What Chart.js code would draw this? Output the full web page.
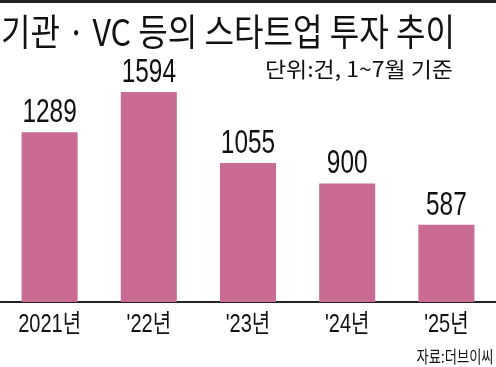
<!DOCTYPE html>
<html>
<head>
<meta charset="utf-8">
<script src="https://cdn.jsdelivr.net/npm/chart.js@4/dist/chart.umd.min.js"></script>
<style>
  html, body { margin: 0; padding: 0; background: #fff; }
  #wrap { position: relative; width: 496px; height: 367px; overflow: hidden; }
  #topline { position: absolute; left: 0; top: 0; width: 496px; height: 3px; background: #222; }
  .txt { position: absolute; white-space: nowrap; color: #111; font-family: "Noto Sans CJK KR", "Liberation Sans", sans-serif; }
  #title { left: 1px; top: 3px; font-size: 37px; transform-origin: left top; }
  #unit { top: 53px; font-size: 21px; transform-origin: right top; }
  #src { top: 343px; font-size: 17px; transform-origin: right top; }
  canvas { position: absolute; left: 0; top: 0; }
</style>
</head>
<body>
<div id="wrap">
  <canvas id="chart" width="496" height="367"></canvas>
  <div id="topline"></div>
  <div class="txt" id="title">기관 · VC 등의 스타트업 투자 추이</div>
  <div class="txt" id="unit">단위:건, 1~7월 기준</div>
  <div class="txt" id="src">자료:더브이씨</div>
</div>
<script>
var years = ['2021년', "'22년", "'23년", "'24년", "'25년"];
var counts = [1289, 1594, 1055, 900, 587];
var barColor = '#c96b93';

// squeeze the headline texts to the width they have in the print graphic
function fitWidth(id, target, right) {
  var el = document.getElementById(id);
  var w = el.getBoundingClientRect().width;
  var s = target / w;
  el.style.transform = 'scaleX(' + s + ')';
  if (right !== undefined) {
    el.style.left = (right - w) + 'px';
  }
}
fitWidth('title', 454);
fitWidth('unit', 188, 453);
fitWidth('src', 77, 494);

// condensed text: draw with a horizontal squeeze around x
function narrowText(c, text, x, y, sx) {
  c.save();
  c.translate(x, y);
  c.scale(sx, 1);
  c.fillText(text, 0, 0);
  c.restore();
}

var narrowLabels = {
  id: 'narrowLabels',
  afterDatasetsDraw: function(chart) {
    var c = chart.ctx;
    var meta = chart.getDatasetMeta(0);
    var xs = chart.scales.x;
    c.save();
    c.fillStyle = '#111';
    c.textAlign = 'center';
    c.textBaseline = 'alphabetic';
    // values over the bars
    c.font = '33px "Liberation Sans", sans-serif';
    meta.data.forEach(function(bar, i) {
      narrowText(c, String(counts[i]), bar.x, bar.y - 10, 0.74);
    });
    // category labels under the axis
    c.font = '25px "Liberation Sans", "Noto Sans CJK KR", sans-serif';
    years.forEach(function(lab, i) {
      narrowText(c, lab, xs.getPixelForValue(i), xs.bottom + 30, 0.8);
    });
    c.restore();
  }
};

var ctx = document.getElementById('chart').getContext('2d');
var myChart = new Chart(ctx, {
  type: 'bar',
  data: {
    labels: years,
    datasets: [{
      data: counts,
      backgroundColor: barColor,
      borderWidth: 0,
      barPercentage: 0.565,
      categoryPercentage: 1
    }]
  },
  options: {
    responsive: false,
    animation: false,
    layout: { padding: { top: 78, bottom: 65, left: 0, right: 0 } },
    plugins: {
      legend: { display: false },
      tooltip: { enabled: false },
      title: { display: false }
    },
    scales: {
      x: {
        grid: { display: false, drawTicks: false },
        border: { display: true, color: '#222', width: 2 },
        ticks: { display: false }
      },
      y: {
        display: false,
        min: 0,
        max: 1700
      }
    }
  },
  plugins: [narrowLabels]
});
</script>
</body>
</html>
